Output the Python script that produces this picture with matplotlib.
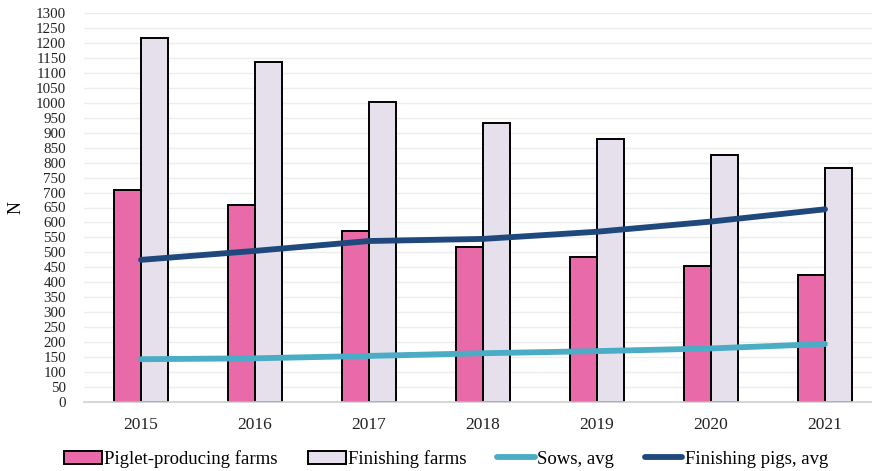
import numpy as np
import matplotlib
matplotlib.use("Agg")
import matplotlib.pyplot as plt
from matplotlib.patches import Patch
from matplotlib.lines import Line2D

plt.rcParams["font.family"] = ["Liberation Serif", "DejaVu Serif"]

years = ["2015", "2016", "2017", "2018", "2019", "2020", "2021"]
piglet_farms = [708, 658, 572, 519, 486, 455, 424]
finishing_farms = [1216, 1135, 1002, 934, 879, 826, 783]
sows_avg = [143, 146, 154, 163, 170, 179, 194]
finishing_pigs_avg = [475, 505, 538, 545, 569, 603, 644]

pink = "#E86AA8"
lilac = "#E6E0EC"
teal = "#4BACC6"
navy = "#1F497D"

fig = plt.figure(figsize=(8.72, 4.71), dpi=100)
ax = fig.add_axes([84 / 872, 69 / 471, 788 / 872, 389 / 471])

x = np.arange(len(years))
w = 0.24
ax.bar(x - w / 2, piglet_farms, w, color=pink, edgecolor="black", linewidth=1.4, zorder=2)
ax.bar(x + w / 2, finishing_farms, w, color=lilac, edgecolor="black", linewidth=1.4, zorder=2)
ax.plot(x, sows_avg, color=teal, linewidth=4.2, solid_capstyle="round", zorder=3)
ax.plot(x, finishing_pigs_avg, color=navy, linewidth=4.2, solid_capstyle="round", zorder=3)

ax.set_xlim(-0.5, 788 / 114 - 0.5)
ax.set_ylim(0, 1300)
ax.set_yticks(np.arange(0, 1301, 50))
ax.set_xticks(x)
ax.set_xticklabels(years)
ax.yaxis.grid(True, color="#EDEDED", linewidth=1.0, zorder=0)
ax.set_axisbelow(True)
for s in ["top", "right", "left"]:
    ax.spines[s].set_visible(False)
ax.spines["bottom"].set_color("#D0D0D0")
ax.spines["bottom"].set_linewidth(1.2)
ax.tick_params(axis="y", length=0, labelsize=10.8, labelcolor="#222222", pad=13)
ax.tick_params(axis="x", length=0, labelsize=12.5, labelcolor="#222222", pad=11)

ax.set_ylabel("N", fontsize=13, labelpad=8)

handles = [
    Patch(facecolor=pink, edgecolor="black", linewidth=1.4),
    Patch(facecolor=lilac, edgecolor="black", linewidth=1.4),
    Line2D([], [], color=teal, linewidth=4.2, solid_capstyle="round"),
    Line2D([], [], color=navy, linewidth=4.2, solid_capstyle="round"),
]
labels = ["Piglet-producing farms", "Finishing farms", "Sows, avg", "Finishing pigs, avg"]
fig.legend(handles, labels, loc="center", bbox_to_anchor=(446 / 872, 1 - 459 / 471),
           ncol=4, frameon=False, handlelength=2.0, handleheight=0.7, handletextpad=0.12,
           columnspacing=1.65, prop={"size": 13.5})

fig.savefig("out.png", dpi=100)
